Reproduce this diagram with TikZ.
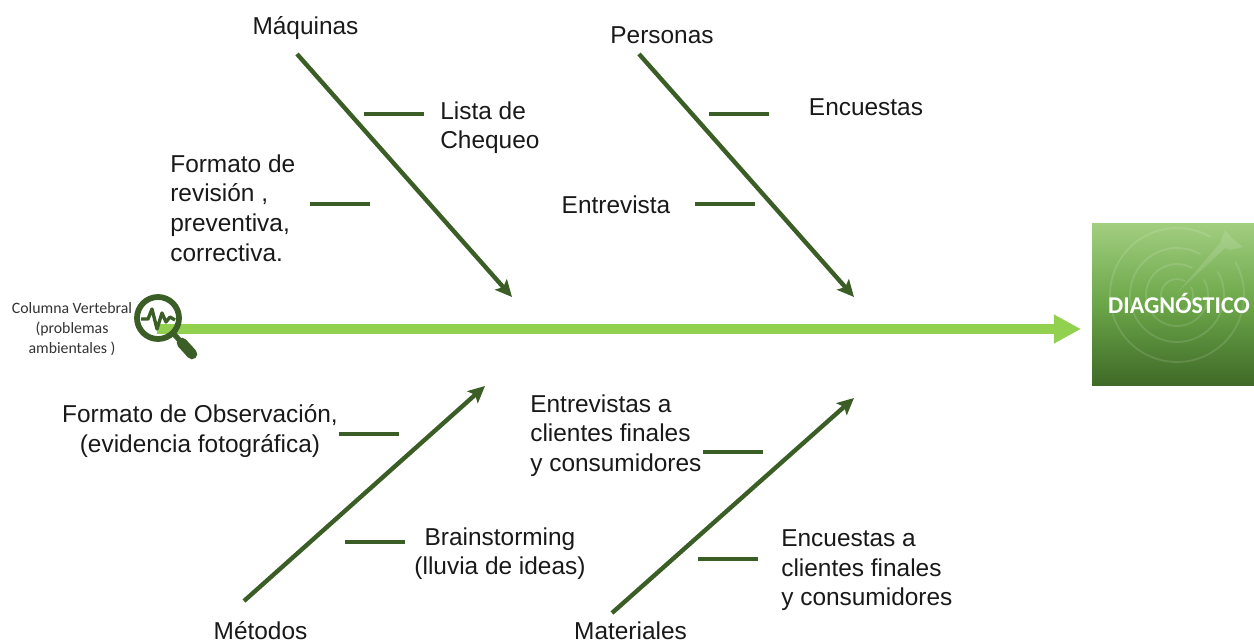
\documentclass[tikz,border=0pt]{standalone}
\usepackage{fontspec}
\setmainfont{Liberation Sans}
\newfontfamily\boxfont{Carlito}
\usetikzlibrary{arrows.meta}
\definecolor{bonegreen}{HTML}{3B5E26}
\definecolor{spinegreen}{HTML}{92D050}
\definecolor{boxtop}{HTML}{A2CE80}
\definecolor{boxmid}{HTML}{6BA648}
\definecolor{boxbot}{HTML}{3F6A28}
\tikzset{
  bone/.style={draw=bonegreen,line width=2.5pt,-{Stealth[length=9.5pt,width=9pt,inset=2pt]}},
  twig/.style={draw=bonegreen,line width=2.2pt},
  lbl/.style={font=\fontsize{13.9}{17}\selectfont,text=black!90,inner sep=0pt,align=left},
  ring/.style={draw=white,draw opacity=0.13,line width=1pt}
}
\begin{document}
\begin{tikzpicture}[x=0.02cm,y=-0.02cm]
\useasboundingbox (0,0) rectangle (1254,643);
% result box
\node[minimum width=162*0.02cm,minimum height=81*0.02cm,inner sep=0pt,top color=boxtop,bottom color=boxmid] (boxup) at (1173,263.5) {};
\node[minimum width=162*0.02cm,minimum height=81*0.02cm,inner sep=0pt,top color=boxmid,bottom color=boxbot] (boxdown) at (1173,344.5) {};
\draw[ring] (1177,295) ++(-30:16) arc[start angle=-30,end angle=300,radius=16];
\draw[ring] (1177,295) ++(-30:31) arc[start angle=-30,end angle=300,radius=31];
\draw[ring] (1177,295) ++(-30:47) arc[start angle=-30,end angle=300,radius=47];
\draw[ring] (1177,295) ++(-30:67) arc[start angle=-30,end angle=300,radius=67];
\fill[white,opacity=0.13] (1177,293)--(1220,243)--(1225,230)--(1232,238)--(1243,247)--(1230,250)--(1225,248)--cycle;
\node[font=\boxfont\bfseries\fontsize{13.7}{15}\selectfont,text=white,inner sep=0pt] (diagnostico) at (1179,303) {DIAGNÓSTICO};
% spine
\coordinate (spinestart) at (157,329);
\coordinate (spineend) at (1081,329);
\draw[draw=spinegreen,line width=5.2pt,-{Triangle[length=15.5pt,width=15.5pt]}] (spinestart)--(spineend);
% magnifier
\draw[bonegreen,line width=3.3pt] (158,318) circle (21);
\draw[bonegreen,line width=3pt] (173,333)--(182,343);
\draw[bonegreen,line width=6pt,line cap=round] (182,343)--(192,354);
\draw[bonegreen,line width=1.9pt,line join=round] (141,319)--(148,319)--(152,309)--(157,329)--(162,313)--(166,322)--(170,317)--(175,320);
\node[font=\boxfont\fontsize{9}{11.4}\selectfont,text=black!80,inner sep=0pt,align=center] (columna) at (72,329) {Columna Vertebral\\(problemas\\ambientales )};
% labels
\node[lbl] (maquinas) at (305.5,28) {Máquinas};
\node[lbl] (personas) at (662,35) {Personas};
\node[lbl] (metodos) at (260.5,631) {Métodos};
\node[lbl] (materiales) at (630.5,631) {Materiales};
\node[lbl,anchor=north west] (lista) at (440,101) {Lista de\\Chequeo};
\node[lbl,anchor=north west] (formato) at (170,154) {Formato de\\revisión ,\\preventiva,\\correctiva.};
\node[lbl] (encuestas) at (866,107) {Encuestas};
\node[lbl] (entrevista) at (616,205) {Entrevista};
\node[lbl,align=center,anchor=north] (observacion) at (200,404) {Formato de Observación,\\(evidencia fotográfica)};
\node[lbl,align=center,anchor=north] (lluvia) at (500,527) {Brainstorming\\(lluvia de ideas)};
\node[lbl,anchor=north west] (clientes) at (530,394) {Entrevistas a\\clientes finales\\y consumidores};
\node[lbl,anchor=north west] (consumo) at (781,529) {Encuestas a\\clientes finales\\y consumidores};
% main bones
\coordinate (maqa) at (297,54);
\coordinate (maqb) at (512,297);
\coordinate (pera) at (639,54);
\coordinate (perb) at (854,297);
\coordinate (meta) at (244,601);
\coordinate (metb) at (485,386);
\coordinate (mata) at (612,613);
\coordinate (matb) at (854,398);
\draw[bone] (maqa)--(maqb);
\draw[bone] (pera)--(perb);
\draw[bone] (meta)--(metb);
\draw[bone] (mata)--(matb);
% twigs
\coordinate (t1a) at (364,114);
\coordinate (t1b) at (424,114);
\coordinate (t2a) at (310,204);
\coordinate (t2b) at (370,204);
\coordinate (t3a) at (709,114);
\coordinate (t3b) at (769,114);
\coordinate (t4a) at (695,204);
\coordinate (t4b) at (755,204);
\coordinate (t5a) at (339,434);
\coordinate (t5b) at (399,434);
\coordinate (t6a) at (345,542);
\coordinate (t6b) at (405,542);
\coordinate (t7a) at (703,452);
\coordinate (t7b) at (763,452);
\coordinate (t8a) at (698,559);
\coordinate (t8b) at (758,559);
\draw[twig] (t1a)--(t1b);
\draw[twig] (t2a)--(t2b);
\draw[twig] (t3a)--(t3b);
\draw[twig] (t4a)--(t4b);
\draw[twig] (t5a)--(t5b);
\draw[twig] (t6a)--(t6b);
\draw[twig] (t7a)--(t7b);
\draw[twig] (t8a)--(t8b);
\end{tikzpicture}
\end{document}
